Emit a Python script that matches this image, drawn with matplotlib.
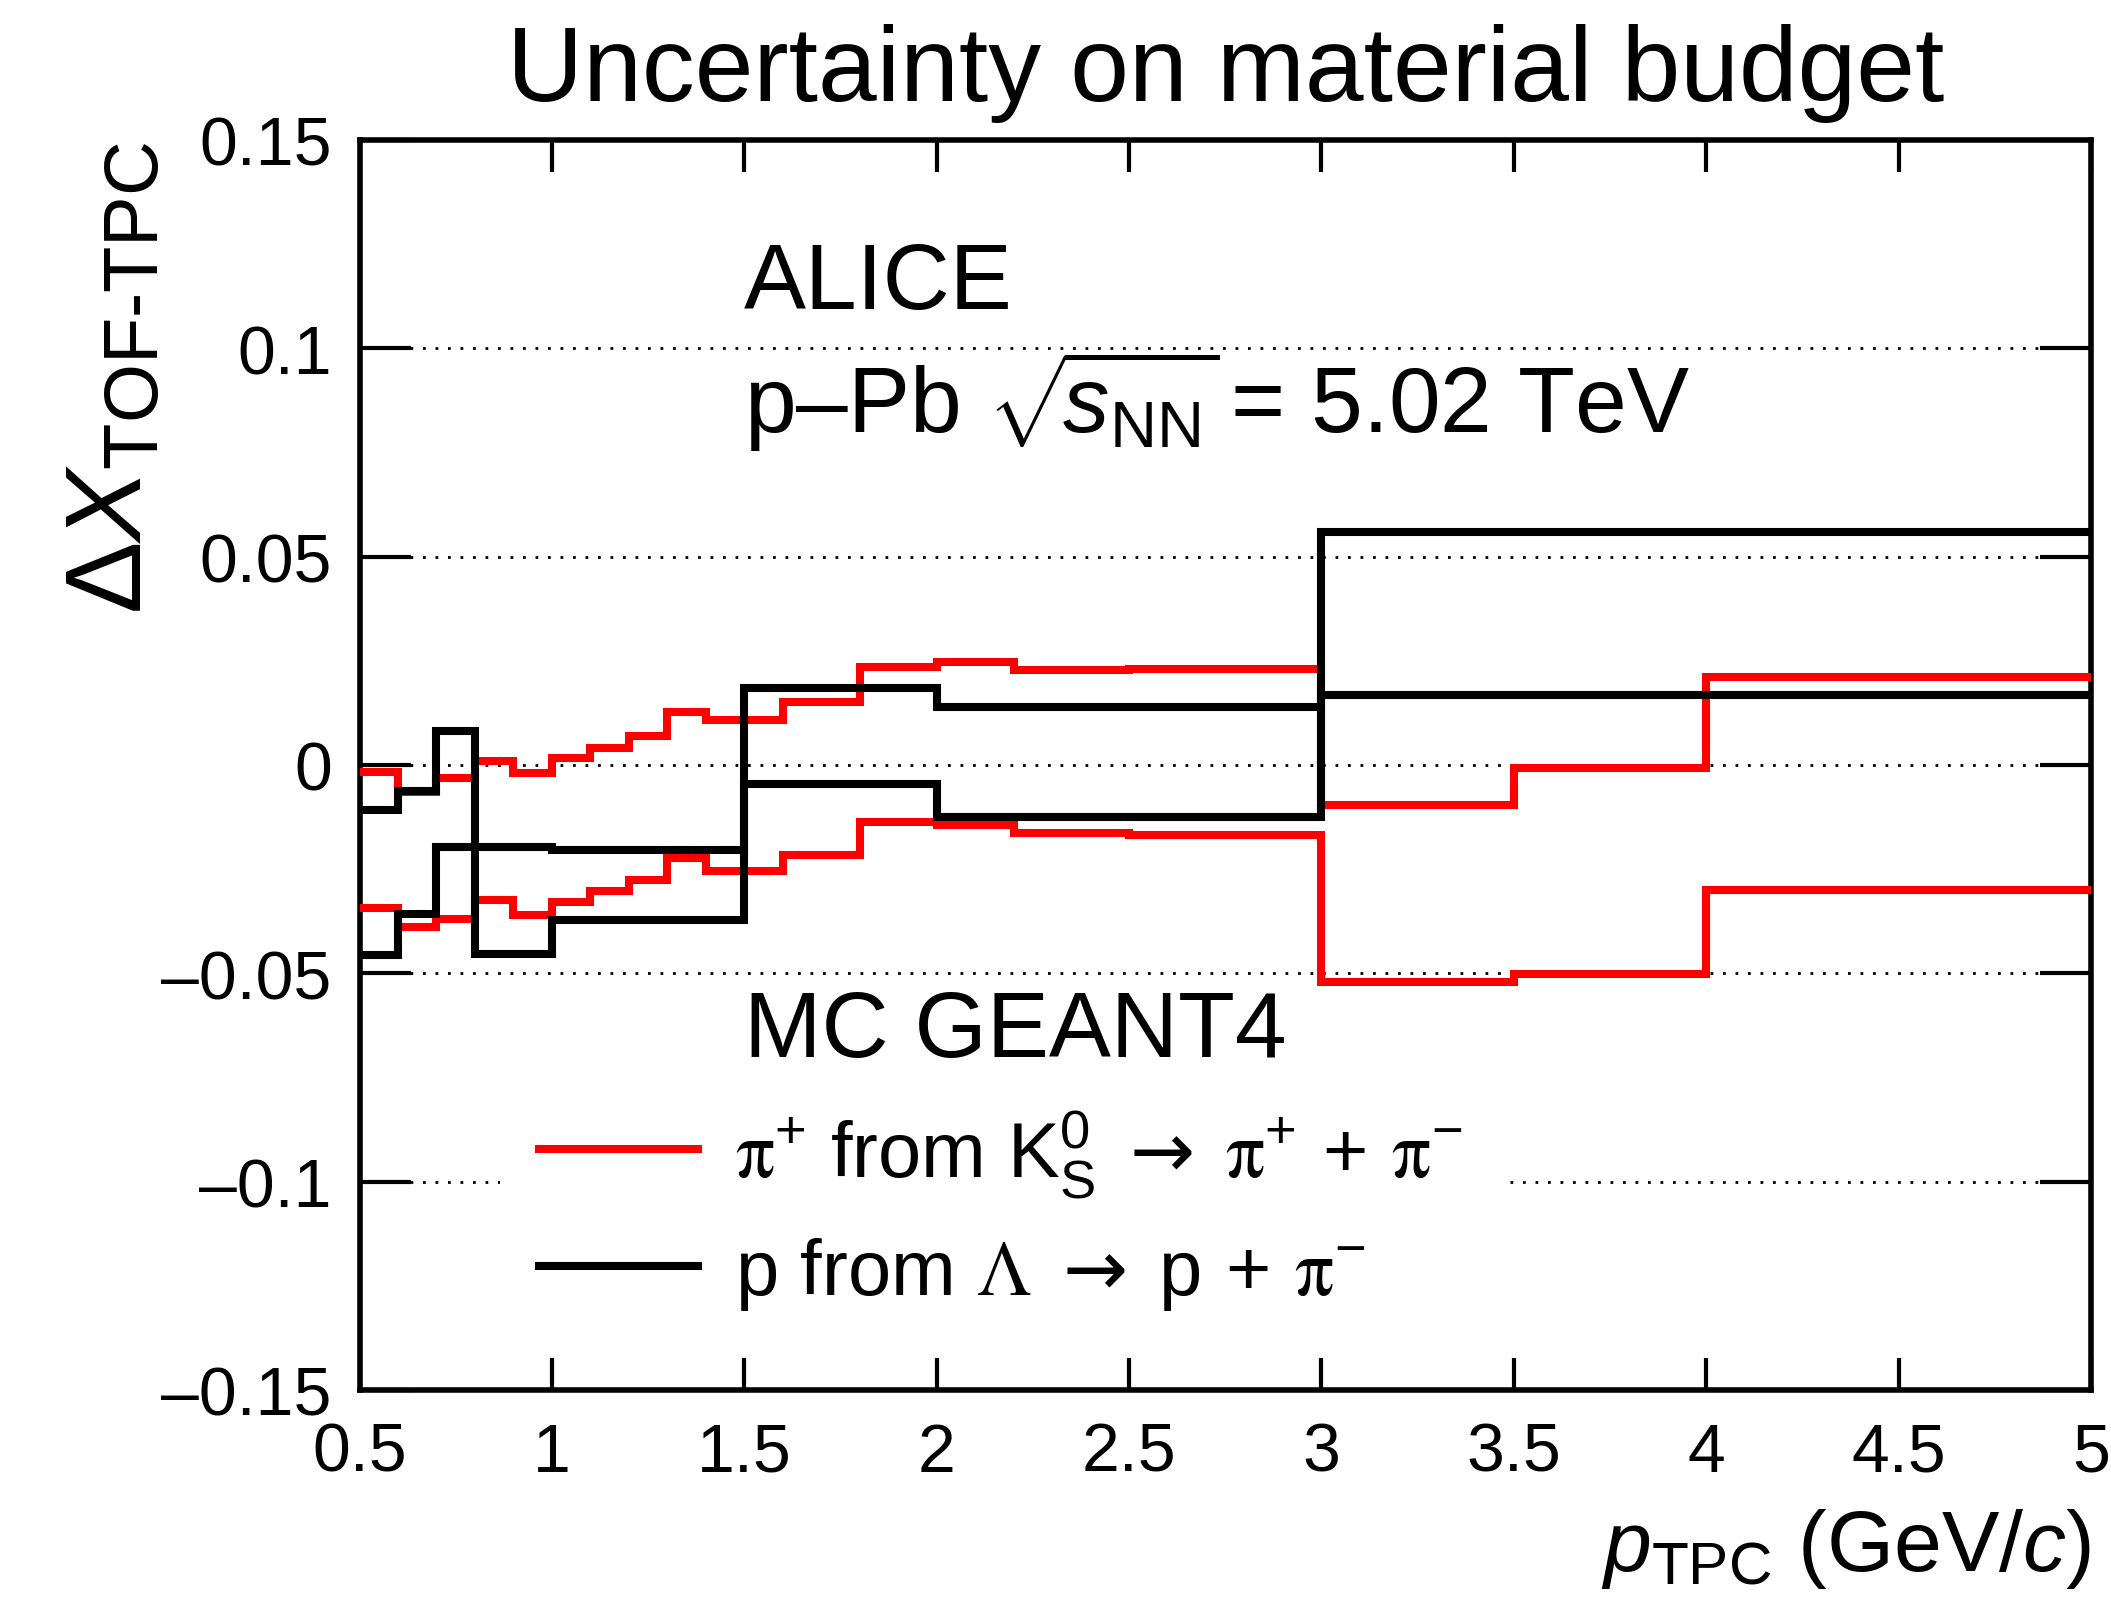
import numpy as np
import matplotlib
matplotlib.use("Agg")
import matplotlib.pyplot as plt
from matplotlib.ticker import FuncFormatter

plt.rcParams['font.family'] = ['Liberation Sans', 'DejaVu Sans']
plt.rcParams['mathtext.fontset'] = 'custom'
plt.rcParams['mathtext.rm'] = 'Liberation Sans'
plt.rcParams['mathtext.it'] = 'Liberation Sans:italic'
plt.rcParams['mathtext.bf'] = 'Liberation Sans:bold'
# serif greek letters and a wider arrow for the decay channels
plt.rcParams['mathtext.sf'] = 'STIXGeneral'
plt.rcParams['mathtext.cal'] = 'DejaVu Sans'

# K0s -> pi+ pi- : band edges of Delta X vs p_TPC
k0_edges = [0.5, 0.6, 0.7, 0.8, 0.9, 1.0, 1.1, 1.2, 1.3, 1.4, 1.6, 1.8, 2.0,
            2.2, 2.5, 3.0, 3.5, 4.0, 5.0]
k0_up = [-0.0016, -0.0064, -0.0032, 0.0010, -0.0020, 0.0016, 0.0040, 0.0070,
         0.0128, 0.0108, 0.0150, 0.0236, 0.0248, 0.0228, 0.0230, -0.0097,
         -0.0007, 0.0210]
k0_low = [-0.0344, -0.0390, -0.0370, -0.0324, -0.0360, -0.0328, -0.0302,
          -0.0276, -0.0224, -0.0254, -0.0217, -0.0136, -0.0144, -0.0164,
          -0.0168, -0.0520, -0.0502, -0.0300]

# Lambda -> p pi-
lam_edges = [0.5, 0.6, 0.7, 0.8, 1.0, 1.5, 2.0, 3.0, 5.0]
lam_up = [-0.0108, -0.0062, 0.0082, -0.0196, -0.0204, 0.0184, 0.0140, 0.0558]
lam_low = [-0.0456, -0.0358, -0.0196, -0.0454, -0.0372, -0.0046, -0.0124, 0.0169]

x_ticks = [0.5, 1, 1.5, 2, 2.5, 3, 3.5, 4, 4.5, 5]
y_ticks = [-0.15, -0.1, -0.05, 0, 0.05, 0.1, 0.15]

fig = plt.figure(figsize=(21.11, 16.24), dpi=100)
ax = fig.add_axes([0.1703, 0.1435, 0.8202, 0.7697])

lw = 5.8
ax.stairs(k0_up, k0_edges, baseline=None, color='#ff0000', lw=lw, zorder=3)
ax.stairs(k0_low, k0_edges, baseline=None, color='#ff0000', lw=lw, zorder=3)
ax.stairs(lam_up, lam_edges, baseline=None, color='black', lw=lw, zorder=4)
ax.stairs(lam_low, lam_edges, baseline=None, color='black', lw=lw, zorder=4)

ax.set_xlim(0.5, 5)
ax.set_ylim(-0.15, 0.15)
ax.set_xticks(x_ticks)
ax.set_yticks(y_ticks)

fmt = FuncFormatter(lambda v, p: ('%g' % v).replace('-', '\u2013'))
ax.xaxis.set_major_formatter(fmt)
ax.yaxis.set_major_formatter(fmt)

for y in [-0.1, -0.05, 0, 0.05, 0.1]:
    ax.axhline(y, color='black', lw=2.0, ls=(0, (1, 3.5)), zorder=1)

for s in ax.spines.values():
    s.set_linewidth(4)
ax.tick_params(axis='both', direction='in', top=True, right=True,
               width=3, labelsize=49, zorder=5)
ax.tick_params(axis='y', length=37, pad=20)
ax.tick_params(axis='x', length=23, pad=22)

ax.set_title('Uncertainty on material budget', fontsize=76, pad=29)

ax.set_ylabel(r'$\Delta\mathit{X}_{\mathrm{TOF' + '\u2010' + r'TPC}}$',
              fontsize=78, loc='top')
ax.yaxis.set_label_coords(-0.113, 1.0)
ax.set_xlabel(r'$\mathit{p}_{\mathrm{TPC}}$ (GeV/$\mathit{c}$)', fontsize=62,
              loc='right')
ax.xaxis.set_label_coords(1.0, -0.093)

ax.text(1.5, 0.1096, 'ALICE', fontsize=67, ha='left', va='baseline')
ax.text(1.5, 0.0798,
        'p\u2013Pb ' + r'$\sqrt{\!\mathit{s}_{\mathrm{NN}}}\!$ = 5.02 TeV',
        fontsize=67, ha='left', va='baseline')
ax.text(1.5, -0.0698, 'MC GEANT4', fontsize=67, ha='left', va='baseline')

h_k0 = ax.plot([], [], color='#ff0000', lw=lw)[0]
h_l = ax.plot([], [], color='black', lw=lw)[0]
lab_k0 = (r'$\mathsf{\pi}^{+}$ from K$^{0}_{\mathrm{S}}\;\mathcal{\rightarrow}\;'
          r'\mathsf{\pi}^{+}\,+\,\mathsf{\pi}^{-}$')
lab_lam = r'p from $\mathsf{\Lambda}\;\mathcal{\rightarrow}\;$p$\,+\,\mathsf{\pi}^{-}$'
leg = ax.legend([h_k0, h_l], [lab_k0, lab_lam],
                loc='center left', bbox_to_anchor=(0.081, 0.144),
                fontsize=56, frameon=True, facecolor='white', edgecolor='none',
                framealpha=1, fancybox=False, handlelength=2.05,
                handletextpad=0.47, labelspacing=0.45, borderpad=0.5,
                borderaxespad=0)
leg.set_zorder(2)

fig.savefig('out.png', dpi=100)
